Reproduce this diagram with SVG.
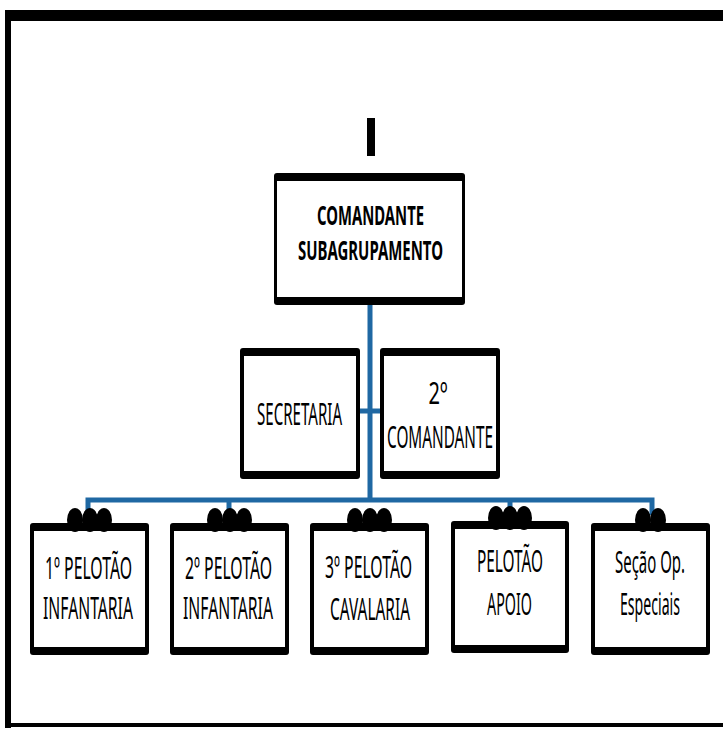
<svg xmlns="http://www.w3.org/2000/svg" width="723" height="729" viewBox="0 0 723 729">
<style>
.frame{fill:#000}
.bo{fill:#000}
.bi{fill:#fff}
.t{font-family:"Noto Sans","Liberation Sans",sans-serif;font-size:15px;fill:#000;text-anchor:middle}
.tb{font-family:"Noto Sans","Liberation Sans",sans-serif;font-size:13.5px;font-weight:bold;fill:#000;text-anchor:middle}
.c{stroke:#1f68a3;stroke-width:5;fill:none}
.dot{fill:#000}
</style>
<rect width="723" height="729" fill="#fff"/>
<g id="frame">
<rect class="frame" x="5" y="10" width="718" height="11"/>
<rect class="frame" x="5" y="10" width="6" height="718"/>
<rect class="frame" x="5" y="723" width="718" height="4"/>
</g>
<g id="connectors">
<line class="c" x1="370" y1="300" x2="370" y2="500"/>
<line class="c" x1="358" y1="411" x2="382" y2="411"/>
<polyline class="c" points="88,515 88,500 652,500 652,515"/>
<line class="c" x1="229" y1="500" x2="229" y2="515"/>
<line class="c" x1="510" y1="500" x2="510" y2="515"/>
</g>
<g id="echelon">
<rect x="367" y="118" width="8" height="38" fill="#000"/>
</g>
<g id="comandante">
<rect class="bo" x="274" y="173" width="191" height="132" rx="3"/>
<rect class="bi" x="277" y="181" width="185" height="116"/>
<text class="tb" transform="translate(370.5,225) scale(1,2)" textLength="107" lengthAdjust="spacingAndGlyphs">COMANDANTE</text>
<text class="tb" transform="translate(370.5,260) scale(1,2)" textLength="145" lengthAdjust="spacingAndGlyphs">SUBAGRUPAMENTO</text>
</g>
<g id="secretaria">
<rect class="bo" x="240" y="348" width="120" height="131" rx="3"/>
<rect class="bi" x="244" y="356" width="112" height="115"/>
<text class="t" transform="translate(299.5,425) scale(1,2)" textLength="85" lengthAdjust="spacingAndGlyphs">SECRETARIA</text>
</g>
<g id="comandante2">
<rect class="bo" x="380" y="348" width="120" height="131" rx="3"/>
<rect class="bi" x="384" y="356" width="112" height="115"/>
<text class="t" transform="translate(438,404) scale(1,2)" textLength="19" lengthAdjust="spacingAndGlyphs">2º</text>
<text class="t" transform="translate(440,448) scale(1,2)" textLength="106" lengthAdjust="spacingAndGlyphs">COMANDANTE</text>
</g>
<g id="pel1">
<rect class="bo" x="30" y="523" width="119" height="132" rx="3"/>
<rect class="bi" x="34" y="531" width="111" height="116"/>
<ellipse class="dot" cx="75" cy="520" rx="8" ry="12"/>
<ellipse class="dot" cx="90" cy="520" rx="8" ry="12"/>
<ellipse class="dot" cx="104" cy="520" rx="8" ry="12"/>
<text class="t" transform="translate(88.5,579) scale(1,2)" textLength="87" lengthAdjust="spacingAndGlyphs">1º PELOTÃO</text>
<text class="t" transform="translate(88,619) scale(1,2)" textLength="90" lengthAdjust="spacingAndGlyphs">INFANTARIA</text>
</g>
<g id="pel2">
<rect class="bo" x="170" y="523" width="119" height="132" rx="3"/>
<rect class="bi" x="174" y="531" width="111" height="116"/>
<ellipse class="dot" cx="215" cy="520" rx="8" ry="12"/>
<ellipse class="dot" cx="230" cy="520" rx="8" ry="12"/>
<ellipse class="dot" cx="244" cy="520" rx="8" ry="12"/>
<text class="t" transform="translate(228.5,579) scale(1,2)" textLength="87" lengthAdjust="spacingAndGlyphs">2º PELOTÃO</text>
<text class="t" transform="translate(228,619) scale(1,2)" textLength="90" lengthAdjust="spacingAndGlyphs">INFANTARIA</text>
</g>
<g id="pel3">
<rect class="bo" x="310" y="523" width="119" height="132" rx="3"/>
<rect class="bi" x="314" y="531" width="111" height="116"/>
<ellipse class="dot" cx="355" cy="520" rx="8" ry="12"/>
<ellipse class="dot" cx="370" cy="520" rx="8" ry="12"/>
<ellipse class="dot" cx="384" cy="520" rx="8" ry="12"/>
<text class="t" transform="translate(368.5,578) scale(1,2)" textLength="87" lengthAdjust="spacingAndGlyphs">3º PELOTÃO</text>
<text class="t" transform="translate(370,620) scale(1,2)" textLength="80" lengthAdjust="spacingAndGlyphs">CAVALARIA</text>
</g>
<g id="pel4">
<rect class="bo" x="451" y="521" width="118" height="132" rx="3"/>
<rect class="bi" x="455" y="529" width="110" height="116"/>
<ellipse class="dot" cx="496" cy="518" rx="8" ry="12"/>
<ellipse class="dot" cx="510" cy="518" rx="8" ry="12"/>
<ellipse class="dot" cx="524" cy="518" rx="8" ry="12"/>
<text class="t" transform="translate(510,572) scale(1,2)" textLength="66" lengthAdjust="spacingAndGlyphs">PELOTÃO</text>
<text class="t" transform="translate(509.5,615) scale(1,2)" textLength="45" lengthAdjust="spacingAndGlyphs">APOIO</text>
</g>
<g id="secao">
<rect class="bo" x="591" y="523" width="119" height="132" rx="3"/>
<rect class="bi" x="595" y="531" width="111" height="116"/>
<ellipse class="dot" cx="643" cy="520" rx="8" ry="12"/>
<ellipse class="dot" cx="658" cy="520" rx="8" ry="12"/>
<text class="t" transform="translate(650,573) scale(1,2)" textLength="70" lengthAdjust="spacingAndGlyphs">Seção Op.</text>
<text class="t" transform="translate(650,615) scale(1,2)" textLength="60" lengthAdjust="spacingAndGlyphs">Especiais</text>
</g>
</svg>
